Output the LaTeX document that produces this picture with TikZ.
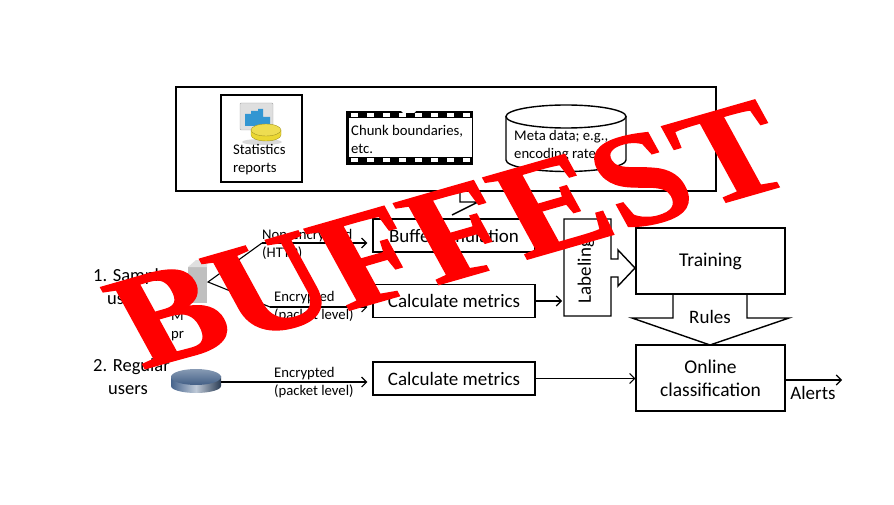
\documentclass[tikz,border=0pt]{standalone}
\usepackage{fontspec}
\usepackage{xcolor}
\usetikzlibrary{arrows.meta, positioning, shapes}
\setmainfont{Carlito}
\newfontfamily\stampfont[BoldFeatures={FakeBold=1}]{Liberation Serif}
\definecolor{myred}{RGB}{255, 0, 0}
\definecolor{myslate}{RGB}{70, 100, 140}
\definecolor{myyellow}{RGB}{235, 215, 50}
\definecolor{myblue}{RGB}{50, 150, 210}
\tikzset{
  box/.style={draw, line width=1.4pt, minimum width=162pt, minimum height=33pt, inner sep=0pt, font=\fontsize{19}{21}\selectfont},
  bigbox/.style={draw, line width=1.4pt, minimum width=149pt, minimum height=66pt, inner sep=0pt, align=center, font=\fontsize{19.5}{23}\selectfont},
  label/.style={font=\fontsize{14.7}{18}\selectfont, align=left, inner sep=0pt},
  usertext/.style={font=\fontsize{18.5}{23}\selectfont, align=left, inner sep=0pt},
  flow/.style={-{Straight Barb[length=5pt,width=10pt]}, line width=1.1pt}
}
\begin{document}
\begin{tikzpicture}[x=1pt,y=-1pt]
  \useasboundingbox (0,0) rectangle (894,505);
  % store on top
  \node[draw, line width=1.4pt, minimum width=540pt, minimum height=104pt, inner sep=0pt] (store) at (446,139) {};
  \node[draw, line width=1.4pt, minimum width=81pt, minimum height=87pt, inner sep=0pt] (statsbox) at (261.5,138.5) {};
  \fill[black!15] (262,142) ellipse (20 and 3);
  \draw[gray!70, fill=gray!25, rounded corners=1pt] (240,103) rectangle (273,130);
  \fill[myblue] (245,122) -- (245,114) -- (251,114) -- (251,111) -- (258,111) -- (258,109) -- (263,109) -- (263,117) -- (270,117) -- (270,126) -- (245,126) -- cycle;
  \draw[myyellow!70!black, fill=myyellow] (251,130) -- (251,135) arc (180:0:15 and 6) -- (281,130) -- cycle;
  \draw[myyellow!70!black, fill=myyellow!85!white] (266,130) ellipse (15 and 6);
  \node[label, right] (statstext) at (233,160) {Statistics\\reports};
  % film strip
  \fill (346,111) rectangle (473,165);
  \fill[white] (349,118) rectangle (472,157);
  \fill[white] (401,111) -- (403,113) -- (414,113) -- (416,111) -- cycle;
  \foreach \i in {0,...,7}{
    \fill[white] (351+16*\i,113) rectangle +(7,4);
    \fill[white] (351+16*\i,158.5) rectangle +(7,4);
  }
  \node[label, right] (chunktext) at (351,139) {Chunk boundaries,\\etc.};
  % meta data can
  \draw[line width=1.4pt, fill=white] (506,116.5) -- (506,160) arc (180:0:60 and 11.5) -- (626,116.5);
  \draw[line width=1.4pt, fill=white] (566,116.5) ellipse (60 and 11.5);
  \node[label, right] (metatext) at (514,146) {Meta data; e.g.,\\encoding rates};
  % feed back up to store
  \draw[line width=1.4pt] (460,191) -- (460,202) -- (478,202) -- (452,215);
  % middle boxes
  \node[box, minimum height=33pt] (buffer) at (454,235.5) {Buffer emulation};
  \node[box] (calcA) at (454,301) {Calculate metrics};
  \node[box] (calcB) at (454,378.5) {Calculate metrics};
  % labeling block arrow
  \draw[line width=1.4pt, fill=white] (564,219) -- (611,219) -- (611,259) -- (618,259) -- (618,250) -- (635,268) -- (618,286) -- (618,277) -- (611,277) -- (611,316) -- (564,316) -- cycle;
  \node[rotate=90, font=\fontsize{19}{21}\selectfont] (labeling) at (586,271) {Labeling};
  \coordinate (labelIn) at (564,301);
  % right side
  \draw[line width=1.4pt, fill=white] (673,294) -- (673,318) -- (632,318) -- (710,345) -- (789,318) -- (747,318) -- (747,294);
  \node[bigbox] (training) at (710.5,261) {Training};
  \node[font=\fontsize{19}{21}\selectfont] (rules) at (710,317) {Rules};
  \node[bigbox] (online) at (710.5,378) {Online\\classification};
  \coordinate (alertEnd) at (842,380);
  \node[font=\fontsize{19}{21}\selectfont] (alerts) at (813,393) {Alerts};
  % users on the left
  \node[usertext, right] (userA) at (93,287) {1. Sample\\\hspace*{14pt}users};
  \node[usertext, right] (userB) at (93,377) {2. Regular\\\hspace*{15pt}users};
  \fill[gray!50] (188,303) rectangle (207,267);
  \fill[gray!25] (188,267) -- (196,260) -- (207,260) -- (207,267) -- cycle;
  \coordinate (server) at (208,282);
  \coordinate (upA) at (262,243);
  \coordinate (downA) at (270,307);
  \node[label, right] (probetext) at (171,326) {M\\pr};
  % router
  \shade[left color=myslate, right color=myslate!60!black, middle color=myslate!35!white] (171,376) -- (171,386) arc (180:0:25 and 7) -- (221,376) -- cycle;
  \shade[top color=myslate!65!white, bottom color=myslate!95!black] (196,377) ellipse (25 and 8);
  \coordinate (router) at (221,382);
  % links
  \draw[line width=1.1pt] (upA) -- (server) -- (downA);
  \draw[flow, shorten >=5pt] (upA) -- (upA -| buffer.west);
  \draw[flow, shorten >=5pt] (downA) -- (downA -| calcA.west);
  \draw[flow, shorten >=5pt] (router) -- (router -| calcB.west);
  \draw[flow, shorten >=2pt] (calcA) -- (labelIn);
  \draw[flow] (calcB) -- (calcB -| online.west);
  \draw[flow] (online.east |- alertEnd) -- (alertEnd);
  \node[label, right] (plainlabel) at (262,244) {Non-encrypted\\(HTTP)};
  \node[label, right] (enclabelA) at (274,307) {Encrypted\\(packet level)};
  \node[label, right] (enclabelB) at (274,383) {Encrypted\\(packet level)};
  % stamp
  \node[text=myred, rotate=16, xslant=-0.225, xscale=1.015, yscale=0.92, inner sep=0pt, font=\stampfont\bfseries\fontsize{150}{150}\selectfont] (stamp) at (450,234.5) {BUFFEST};
\end{tikzpicture}
\end{document}
